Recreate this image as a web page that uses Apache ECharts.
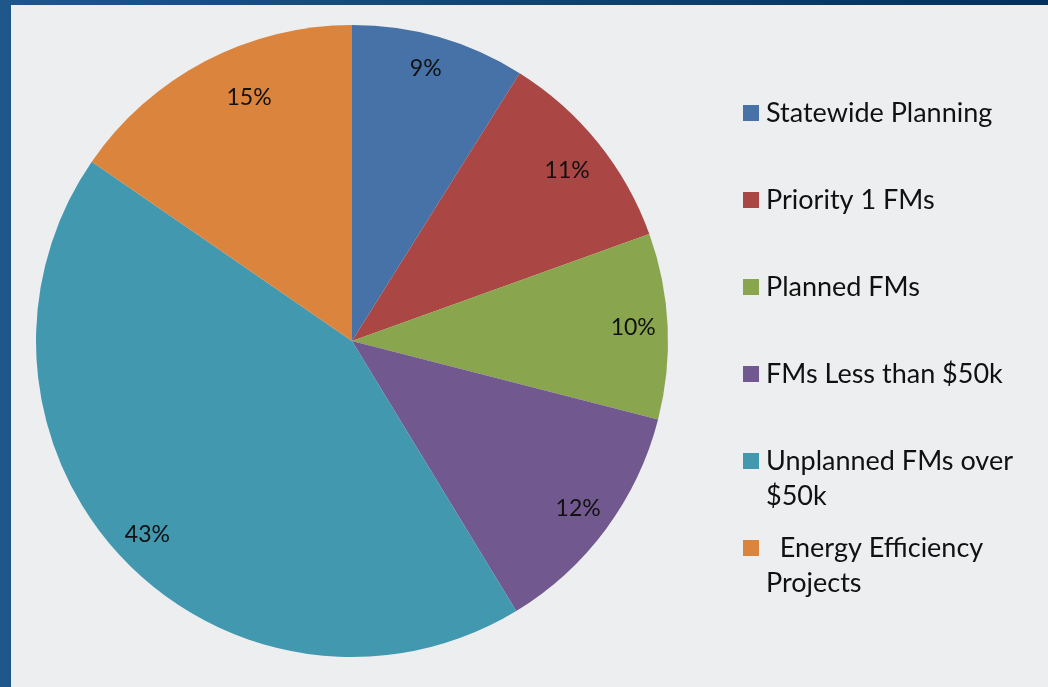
<!DOCTYPE html>
<html>
<head>
<meta charset="utf-8">
<script src="https://cdn.jsdelivr.net/npm/echarts@6/dist/echarts.min.js"></script>
<style>
html, body { margin: 0; padding: 0; width: 1048px; height: 687px; overflow: hidden;
  background: linear-gradient(to right, #1e5789, #04305d); }
#chart { position: absolute; left: 11px; top: 5px; width: 1037px; height: 682px; background: #edeef0; }
</style>
</head>
<body>
<div id="chart"></div>
<script>
var categories = ['Statewide Planning', 'Priority 1 FMs', 'Planned FMs', 'FMs Less than $50k',
                  'Unplanned FMs over $50k', 'Energy Efficiency Projects'];
// how the legend shows each name (leading blank line keeps the box on the first text line)
var legendLabels = ['Statewide Planning', 'Priority 1 FMs', 'Planned FMs', 'FMs Less than $50k',
                    '\nUnplanned FMs over\n$50k', '\n  Energy Efficiency\nProjects'];
var shares = [8.9, 10.6, 9.5, 12.3, 43.3, 15.4];
var colors = ['#4672a8', '#aa4644', '#89a54e', '#71588f', '#4198af', '#db843d'];

var pieData = categories.map(function (name, i) {
    return { name: name, value: shares[i], itemStyle: { color: colors[i] } };
});

var legends = categories.map(function (name, i) {
    var lines = legendLabels[i].split('\n').length;
    return {
        data: [name],
        orient: 'vertical',
        left: 732,
        top: 108 + 87 * i - lines * 35 / 2,
        padding: 0,
        icon: 'rect',
        itemWidth: 16,
        itemHeight: 16,
        selectedMode: false,
        formatter: function () { return legendLabels[i]; },
        textStyle: { fontFamily: 'Lato', fontSize: 27, lineHeight: 35, color: '#111', padding: [0, 0, 0, 2] }
    };
});

// small nudges so the labels sit where the original put them
var labelData = pieData.map(function (d, i) {
    var item = { name: d.name, value: d.value };
    if (i === 0) item.label = { offset: [-4, -2] };
    if (i === 1) item.label = { offset: [-4, 6] };
    if (i === 5) item.label = { offset: [28, 6] };
    return item;
});

var myChart = echarts.init(document.getElementById('chart'));
myChart.setOption({
    animation: false,
    legend: legends,
    series: [
        {
            type: 'pie',
            center: [341, 336],
            radius: 316,
            startAngle: 90,
            label: { show: false },
            labelLine: { show: false },
            itemStyle: { borderWidth: 0 },
            emphasis: { disabled: true },
            data: pieData
        },
        {
            // transparent ring only used to place the percent labels near the rim
            type: 'pie',
            center: [341, 336],
            radius: [241, 316],
            startAngle: 90,
            silent: true,
            itemStyle: { color: 'transparent', borderWidth: 0 },
            label: {
                show: true,
                position: 'inside',
                fontFamily: 'Lato',
                fontSize: 23,
                color: '#111',
                formatter: function (p) { return Math.round(p.percent) + '%'; }
            },
            labelLine: { show: false },
            data: labelData
        }
    ]
});
</script>
</body>
</html>
